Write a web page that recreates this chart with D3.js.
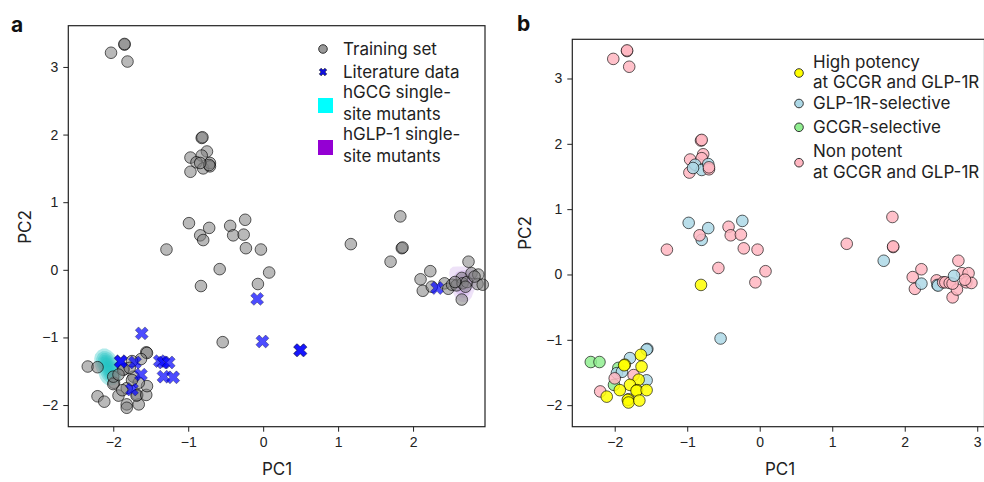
<html>
<head>
<meta charset="utf-8">
<style>
  body { margin: 0; background: #fff; }
  svg { font-family: Inter, Roboto, "Liberation Sans", sans-serif; }
  .tick text { font-size: 14px; fill: #222; }
  .tick line { stroke: #222; }
  .leg { font-size: 17px; fill: #222; }
</style>
</head>
<body>
<svg width="984" height="482"></svg>
<script src="https://d3js.org/d3.v7.min.js"></script>
<script>
// ---- panel a: training set (PC1, PC2)
var trainA_pc1 = [-2.03, -1.85, -1.85, -1.81,
  -0.82, -0.81, -0.75, -0.82, -0.97, -0.89, -0.97, -0.80, -0.71, -0.71, -0.72, -0.84,
  -0.99, -0.84, -0.80, -0.72, -0.44, -0.40, -0.26, -0.24, -0.23, -0.03, -1.29, -0.58, 0.08, -0.07, -0.83, -0.54,
  1.17, 1.83, 1.85, 1.86, 1.70,
  2.10, 2.23, 2.13, 2.25, 2.42, 2.47, 2.52, 2.58, 2.65, 2.66, 2.72, 2.74, 2.78, 2.87, 2.86, 2.93, 2.82, 2.65, 2.70, 2.56,
  -2.34, -2.21, -2.21, -2.12, -1.99, -2.00, -1.93, -1.86, -1.87, -1.82, -1.82, -1.82, -1.66, -1.68, -1.69, -1.56, -1.55,
  -1.56, -1.55, -1.63, -1.75, -1.73, -1.66, -2.00, -1.75, -1.88, -1.93, -1.78];
var trainA_pc2 = [3.21, 3.33, 3.34, 3.08,
  1.95, 1.96, 1.75, 1.69, 1.66, 1.59, 1.45, 1.50, 1.58, 1.53, 1.55, 1.58,
  0.69, 0.51, 0.44, 0.62, 0.65, 0.51, 0.52, 0.74, 0.32, 0.30, 0.30, 0.01, -0.04, -0.21, -0.24, -1.07,
  0.38, 0.79, 0.32, 0.33, 0.12,
  -0.14, -0.02, -0.31, -0.25, -0.20, -0.28, -0.22, -0.23, -0.12, -0.20, -0.18, 0.12, -0.05, -0.07, -0.21, -0.22, -0.10, -0.44, -0.25, -0.18,
  -1.43, -1.44, -1.87, -1.95, -1.67, -1.69, -1.86, -1.47, -1.48, -1.75, -1.99, -2.04, -1.99, -1.85, -1.86, -1.85, -1.72,
  -1.22, -1.23, -1.32, -1.35, -1.58, -1.67, -1.58, -1.63, -1.78, -1.55, -1.45];

// ---- panel a: literature data
var litPC1 = [-1.62, -1.90, -1.90, -1.71, -1.63, -1.75, -1.38, -1.33, -1.26, -1.33, -1.20, -0.08, -0.01, 0.49, 0.50, 2.32];
var litPC2 = [-0.94, -1.35, -1.36, -1.37, -1.55, -1.77, -1.35, -1.37, -1.37, -1.58, -1.59, -0.43, -1.06, -1.19, -1.19, -0.27];

// ---- panel a: single-site mutant clouds
var gcgPC1 = [-2.14, -2.12, -2.10, -2.11, -2.08, -2.06, -2.09, -2.05, -2.03, -2.07, -2.02, -2.00, -2.04, -2.13, -2.06];
var gcgPC2 = [-1.27, -1.32, -1.30, -1.38, -1.36, -1.42, -1.45, -1.48, -1.52, -1.55, -1.58, -1.50, -1.62, -1.35, -1.40];
var glpPC1 = [2.60, 2.65, 2.70, 2.75, 2.68, 2.72, 2.62, 2.66, 2.78, 2.70, 2.64, 2.52];
var glpPC2 = [-0.15, -0.10, -0.05, -0.08, -0.20, -0.25, -0.30, -0.35, -0.15, -0.40, -0.22, 0.00];

// ---- panel b: training set coloured by potency class
// H = high potency, L = GLP-1R-selective, G = GCGR-selective, N = non potent
var trainB_pc1 = [-2.02, -1.83, -1.83, -1.80,
  -0.81, -0.80, -0.96, -0.78, -0.80, -0.97, -0.89, -0.80, -0.71, -0.70, -0.70, -0.92,
  -0.98, -0.80, -0.83, -0.71, -0.43, -0.40, -0.26, -0.24, -0.22, -0.03, -1.28, -0.57, 0.08, -0.06, -0.81, -0.54,
  1.20, 1.83, 1.84, 1.84, 1.71,
  2.23, 2.11, 2.14, 2.23, 2.44, 2.45, 2.46, 2.53, 2.56, 2.62, 2.74, 2.79, 2.88, 2.85, 2.92, 2.66, 2.72, 2.66, 2.68, 2.83,
  -2.33, -2.21, -2.01, -1.95, -1.97, -1.90, -1.79, -1.55, -1.56, -1.56, -2.20, -2.00, -1.74,
  -1.64, -1.86, -1.87, -1.63, -1.67, -1.79, -1.93, -1.69, -1.70, -1.56, -2.11, -1.81, -1.82, -1.81, -1.66];
var trainB_pc2 = [3.30, 3.42, 3.43, 3.18,
  2.05, 2.06, 1.76, 1.84, 1.78, 1.56, 1.68, 1.60, 1.69, 1.61, 1.64, 1.63,
  0.79, 0.53, 0.60, 0.71, 0.73, 0.60, 0.61, 0.82, 0.40, 0.38, 0.38, 0.10, 0.05, -0.12, -0.16, -0.98,
  0.47, 0.88, 0.42, 0.43, 0.21,
  0.08, -0.04, -0.22, -0.14, -0.09, -0.16, -0.17, -0.12, -0.12, -0.13, 0.21, 0.02, 0.02, -0.12, -0.13, -0.35, -0.23, -0.14, -0.02, -0.08,
  -1.34, -1.34, -1.69, -1.43, -1.51, -1.49, -1.28, -1.14, -1.15, -1.62, -1.79, -1.59, -1.54,
  -1.23, -1.38, -1.39, -1.41, -1.61, -1.69, -1.77, -1.77, -1.78, -1.77, -1.87, -1.91, -1.92, -1.96, -1.93];
var trainB_cls = ["N", "N", "N", "N",
  "N", "N", "N", "N", "N", "N", "L", "L", "L", "N", "N", "L",
  "L", "L", "N", "L", "N", "N", "N", "L", "N", "N", "N", "N", "N", "N", "H", "L",
  "N", "N", "N", "N", "L",
  "N", "N", "N", "L", "N", "L", "L", "N", "N", "N", "N", "N", "N", "N", "N", "N", "N", "N", "L", "N",
  "G", "G", "G", "G", "L", "L", "L", "L", "L", "L", "N", "N", "N",
  "H", "H", "H", "H", "H", "H", "H", "H", "H", "H", "H", "H", "H", "H", "H"];

var classKeys = ["H", "L", "G", "N"];
var classColors = ["#ffff00", "#add8e6", "#90ee90", "#ffb6c1"];
var classLabels = [["High potency", "at GCGR and GLP-1R"], ["GLP-1R-selective"], ["GCGR-selective"], ["Non potent", "at GCGR and GLP-1R"]];

var legendA = [["Training set"], ["Literature data"], ["hGCG single-", "site mutants"], ["hGLP-1 single-", "site mutants"]];

var svg = d3.select("svg");
var fmt = d3.format("d");

function frame(g, x, y, xt, yt) {
  var r = x.range(), h = y.range();
  g.append("g").attr("transform", "translate(0," + h[0] + ")")
    .call(d3.axisBottom(x).tickValues(xt).tickFormat(fmt).tickSize(5).tickPadding(5))
    .call(function(s) { s.select(".domain").remove(); });
  g.append("g").attr("transform", "translate(" + r[0] + ",0)")
    .call(d3.axisLeft(y).tickValues(yt).tickFormat(fmt).tickSize(5).tickPadding(5))
    .call(function(s) { s.select(".domain").remove(); });
  g.append("rect")
    .attr("x", r[0]).attr("y", h[1])
    .attr("width", r[1] - r[0]).attr("height", h[0] - h[1])
    .attr("fill", "none").attr("stroke", "#222").attr("stroke-width", 1.2);
}

// ================= panel a =================
var xa = d3.scaleLinear().domain([-2.6, 2.96]).range([68.3, 485]);
var ya = d3.scaleLinear().domain([-2.32, 3.61]).range([426.7, 25.7]);
var ga = svg.append("g");

function blob(px, py, color, op, bw) {
  var pts = d3.range(px.length).map(function(i) { return [xa(px[i]), ya(py[i])]; });
  var dens = d3.contourDensity()
    .x(function(d) { return d[0]; }).y(function(d) { return d[1]; })
    .size([984, 482]).bandwidth(bw).thresholds(7)(pts);
  ga.append("g").selectAll("path").data(dens).join("path")
    .attr("d", d3.geoPath())
    .attr("fill", color).attr("fill-opacity", op);
}
blob(gcgPC1, gcgPC2, "#20c4c4", 0.35, 3);
blob(glpPC1, glpPC2, "#b07ce0", 0.22, 3.5);

ga.append("g").selectAll("circle").data(d3.range(trainA_pc1.length)).join("circle")
  .attr("cx", function(i) { return xa(trainA_pc1[i]); })
  .attr("cy", function(i) { return ya(trainA_pc2[i]); })
  .attr("r", 5.8)
  .attr("fill", "#808080").attr("fill-opacity", 0.55)
  .attr("stroke", "#000").attr("stroke-opacity", 0.7).attr("stroke-width", 0.9);

var xSym = d3.symbol().type(d3.symbolCross).size(105);
ga.append("g").selectAll("path").data(d3.range(litPC1.length)).join("path")
  .attr("d", xSym)
  .attr("transform", function(i) { return "translate(" + xa(litPC1[i]) + "," + ya(litPC2[i]) + ") rotate(45)"; })
  .attr("fill", "#0000ff").attr("fill-opacity", 0.7)
  .attr("stroke", "#000").attr("stroke-opacity", 0.5).attr("stroke-width", 0.6);

frame(ga, xa, ya, [-2, -1, 0, 1, 2], [-2, -1, 0, 1, 2, 3]);

// legend a
var lA = ga.append("g");
lA.append("circle").attr("cx", 323).attr("cy", 49).attr("r", 4.3)
  .attr("fill", "#999").attr("stroke", "#222").attr("stroke-width", 0.9);
lA.append("path").attr("d", d3.symbol().type(d3.symbolCross).size(36))
  .attr("transform", "translate(323,72) rotate(45)")
  .attr("fill", "#1010e0").attr("stroke", "#000").attr("stroke-width", 0.5);
lA.append("rect").attr("x", 318).attr("y", 98).attr("width", 15).attr("height", 15).attr("fill", "#00ffff");
lA.append("rect").attr("x", 318).attr("y", 140).attr("width", 15).attr("height", 15).attr("fill", "#9400d3");
var lAy = [[49], [72], [92, 114], [134, 156]];
legendA.forEach(function(lines, k) {
  lines.forEach(function(t, j) {
    lA.append("text").attr("class", "leg").attr("x", 343).attr("y", lAy[k][j])
      .attr("dy", "0.35em").text(t);
  });
});

// ================= panel b =================
var xb = d3.scaleLinear().domain([-2.585, 3.1]).range([572.3, 984.5]);
var yb = d3.scaleLinear().domain([-2.33, 3.6]).range([426.7, 39.3]);
var gb = svg.append("g");
var color = d3.scaleOrdinal().domain(classKeys).range(classColors);

gb.append("g").selectAll("circle").data(d3.range(trainB_pc1.length)).join("circle")
  .attr("cx", function(i) { return xb(trainB_pc1[i]); })
  .attr("cy", function(i) { return yb(trainB_pc2[i]); })
  .attr("r", 5.8)
  .attr("fill", function(i) { return color(trainB_cls[i]); }).attr("fill-opacity", 0.85)
  .attr("stroke", "#000").attr("stroke-opacity", 0.7).attr("stroke-width", 0.9);

frame(gb, xb, yb, [-2, -1, 0, 1, 2, 3], [-2, -1, 0, 1, 2, 3]);

var lB = gb.append("g");
var lBmark = [73, 103.5, 127.3, 162.7];
var lBtext = [[62, 82], [103.5], [127], [151.5, 172]];
classKeys.forEach(function(k, i) {
  lB.append("circle").attr("cx", 799).attr("cy", lBmark[i]).attr("r", 4.3)
    .attr("fill", classColors[i]).attr("stroke", "#222").attr("stroke-width", 0.9);
  classLabels[i].forEach(function(t, j) {
    lB.append("text").attr("class", "leg").attr("x", 813).attr("y", lBtext[i][j])
      .attr("dy", "0.35em").text(t);
  });
});

// ================= labels =================
svg.append("text").attr("x", 11).attr("y", 32).attr("font-size", 21).attr("font-weight", "bold").attr("fill", "#111").text("a");
svg.append("text").attr("x", 517).attr("y", 31).attr("font-size", 21).attr("font-weight", "bold").attr("fill", "#111").text("b");
svg.append("text").attr("x", 277).attr("y", 475).attr("text-anchor", "middle").attr("font-size", 17).attr("fill", "#222").text("PC1");
svg.append("text").attr("x", 780).attr("y", 475).attr("text-anchor", "middle").attr("font-size", 17).attr("fill", "#222").text("PC1");
svg.append("text").attr("transform", "translate(31,227) rotate(-90)").attr("text-anchor", "middle").attr("font-size", 17).attr("fill", "#222").text("PC2");
svg.append("text").attr("transform", "translate(531,233) rotate(-90)").attr("text-anchor", "middle").attr("font-size", 17).attr("fill", "#222").text("PC2");
</script>
</body>
</html>
